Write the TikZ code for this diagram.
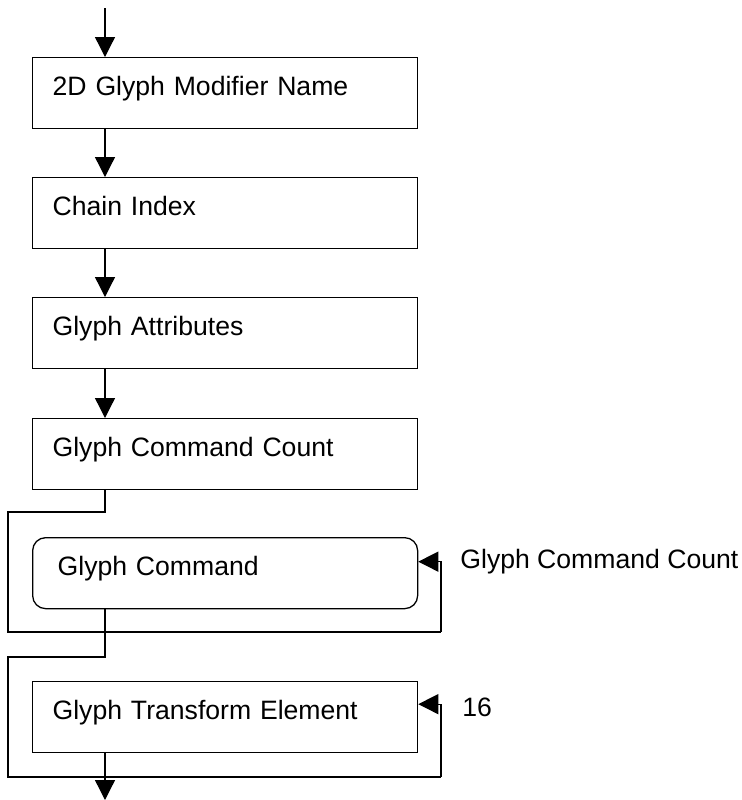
\documentclass[tikz,border=0pt]{standalone}
\usepackage{fontspec}
\setmainfont{Liberation Sans}
\usetikzlibrary{arrows.meta}

\begin{document}
\begin{tikzpicture}[
    x=0.5pt, y=-0.5pt,
    >={Triangle[length=10pt, width=10pt]},
    field/.style={rectangle, draw, line width=0.65pt, anchor=north west, text width=172.5pt, align=left, inner xsep=10pt, inner ysep=0pt, text height=18.75pt, text depth=16.75pt, font=\fontsize{13.3}{16}\selectfont},
    loopfield/.style={field, rounded corners=6.5pt, inner xsep=12.5pt, text width=167.5pt},
    note/.style={anchor=west, inner sep=0pt, font=\fontsize{13.3}{16}\selectfont},
    link/.style={line width=0.65pt},
    arr/.style={->, line width=0.65pt}
  ]
  \useasboundingbox (0,0) rectangle (742,800);

  % Fields
  \foreach \n/\y/\txt in {name/57/2D Glyph Modifier Name, chain/177/Chain Index, attr/297/Glyph Attributes, count/418/Glyph Command Count} {
    \node[field] (\n) at (32,\y) {\txt};
  }
  \node[loopfield] (cmd) at (32,537) {Glyph Command};
  \node[field] (xform) at (32,681) {Glyph Transform Element};

  % Repeat counts
  \node[note] (reps) at (460,562) {Glyph Command Count};
  \node[note] (reps16) at (462,707) {16};

  % Flow
  \coordinate (in) at (105,8);
  \coordinate (out) at (105,800);
  \coordinate (skip1) at (8,512);
  \coordinate (back1) at (441,632);
  \coordinate (skip2) at (8,657);
  \coordinate (back2) at (441,777);

  \draw[arr] (in) -- (in |- name.north);
  \foreach \a/\b in {name/chain, chain/attr, attr/count} {
    \draw[arr] (in |- \a.south) -- (in |- \b.north);
  }
  \draw[link] (in |- count.south) |- (skip1) |- (back1);
  \draw[arr] (back1) |- ([yshift=5.75pt]cmd.east);
  \draw[link] (in |- cmd.south) |- (skip2) |- (back2);
  \draw[arr] (back2) |- ([yshift=6.5pt]xform.east);
  \draw[arr] (in |- xform.south) -- (out);

\end{tikzpicture}
\end{document}
